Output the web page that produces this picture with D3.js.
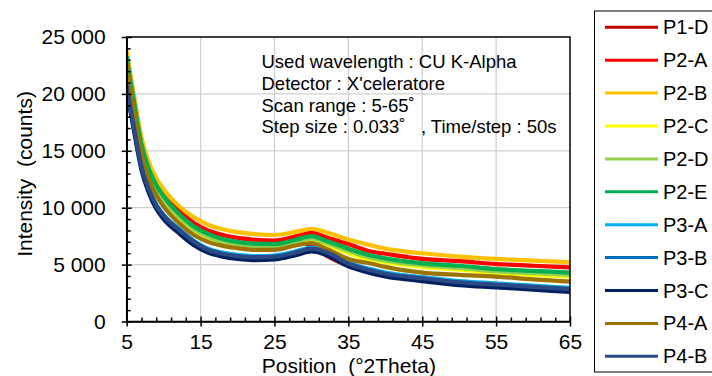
<!DOCTYPE html>
<html>
<head>
<meta charset="utf-8">
<script src="https://cdn.jsdelivr.net/npm/d3@7"></script>
<style>
  html, body { margin: 0; padding: 0; background: #fff; }
  svg { display: block; font-family: "Liberation Sans", Arial, sans-serif; }
  text { white-space: pre; }
</style>
</head>
<body>
<svg id="chart" width="712" height="376"></svg>
<script>
// ---- data (values in counts) ----
const positions = [5, 5.5, 6, 6.5, 7, 8, 9, 10, 12, 14, 16, 18, 20, 22, 25, 28, 30, 32, 35, 38, 40, 45, 50, 55, 60, 65];

const seriesNames = ["P1-D", "P2-A", "P2-B", "P2-C", "P2-D", "P2-E", "P3-A", "P3-B", "P3-C", "P4-A", "P4-B"];
const seriesColors = ["#C00000", "#FF0000", "#FFC000", "#FFFF00", "#92D050", "#00B050", "#00B0F0", "#0070C0", "#002060", "#9C7400", "#2B4A85"];

const p1d = [23000, 20900, 19000, 17000, 15300, 13100, 11700, 10700, 9250, 8150, 7450, 7000, 6800, 6650, 6600, 7000, 6700, 5800, 4900, 4350, 4050, 3650, 3350, 3150, 2950, 2750];
const p2a = [23600, 21500, 19600, 17600, 15900, 13700, 12300, 11300, 9800, 8700, 8000, 7600, 7350, 7200, 7100, 7500, 7800, 7400, 6800, 6150, 5950, 5500, 5300, 5050, 4900, 4750];
const p2b = [23800, 21700, 19800, 17900, 16200, 14000, 12600, 11600, 10200, 9200, 8500, 8100, 7850, 7700, 7600, 7900, 8150, 7850, 7200, 6700, 6400, 6000, 5700, 5500, 5350, 5200];
const p2c = [22900, 20800, 18900, 16900, 15200, 13000, 11600, 10600, 9100, 8000, 7300, 6850, 6650, 6500, 6500, 7000, 7200, 6750, 6000, 5400, 5200, 4800, 4550, 4250, 4100, 3950];
const p2d = [23000, 20900, 19000, 17000, 15300, 13100, 11700, 10700, 9250, 8150, 7450, 7000, 6800, 6650, 6600, 7050, 7300, 6900, 6200, 5600, 5350, 4950, 4700, 4400, 4250, 4100];
const p2e = [23300, 21200, 19300, 17300, 15600, 13400, 12000, 11000, 9500, 8400, 7700, 7250, 7000, 6850, 6800, 7200, 7500, 7100, 6400, 5800, 5550, 5100, 4900, 4600, 4450, 4300];
const p3a = [20900, 18900, 17100, 15300, 13700, 11700, 10300, 9400, 8200, 7150, 6400, 6050, 5850, 5750, 5800, 6200, 6500, 6200, 5200, 4600, 4300, 3900, 3550, 3350, 3150, 2950];
const p3b = [20750, 18750, 16950, 15150, 13550, 11550, 10150, 9250, 8050, 7000, 6250, 5900, 5700, 5600, 5650, 6050, 6350, 6050, 5050, 4450, 4150, 3750, 3400, 3200, 3000, 2800];
const p3c = [20500, 18500, 16700, 14900, 13300, 11300, 9900, 9000, 7800, 6750, 6050, 5700, 5500, 5400, 5450, 5850, 6150, 5850, 4850, 4250, 3950, 3550, 3200, 3000, 2800, 2600];
const p4a = [22600, 20400, 18500, 16400, 14700, 12500, 11100, 10100, 8700, 7650, 7000, 6650, 6450, 6300, 6300, 6700, 6900, 6400, 5500, 5100, 4800, 4300, 4100, 3950, 3700, 3500];
const p4b = [20800, 18800, 17000, 15200, 13600, 11600, 10200, 9300, 8100, 7050, 6300, 5950, 5750, 5650, 5700, 6100, 6400, 6100, 5100, 4500, 4200, 3800, 3450, 3250, 3050, 2850];

const seriesValues = [p1d, p2a, p2b, p2c, p2d, p2e, p3a, p3b, p3c, p4a, p4b];

const xMajorTicks = [5, 15, 25, 35, 45, 55, 65];
const xMinorTicks = [7, 9, 11, 13, 17, 19, 21, 23, 27, 29, 31, 33, 37, 39, 41, 43, 47, 49, 51, 53, 57, 59, 61, 63];
const yMajorTicks = [0, 5000, 10000, 15000, 20000, 25000];
const yMinorTicks = [1000, 2000, 3000, 4000, 6000, 7000, 8000, 9000, 11000, 12000, 13000, 14000, 16000, 17000, 18000, 19000, 21000, 22000, 23000, 24000];

const annotationLines = [
  "Used wavelength : CU K-Alpha",
  "Detector : X'celeratore",
  "Scan range : 5-65\u02DA",
  "Step size : 0.033\u02DA\u00A0\u00A0\u00A0, Time/step : 50s"
];
const xTitle = "Position\u00A0\u00A0(\u00B02Theta)";
const yTitle = "Intensity\u00A0\u00A0(counts)";

// ---- layout ----
const L = 126.7, R = 570, T = 37, B = 321.5;
const svg = d3.select("#chart");
const x = d3.scaleLinear().domain([5, 65]).range([L, R]);
const y = d3.scaleLinear().domain([0, 25000]).range([B, T]);
const fmt = d => d3.format(",")(d).replace(/,/g, " ");

// gridlines
svg.append("g").selectAll("line").data(xMajorTicks.slice(1, -1)).join("line")
  .attr("x1", d => x(d)).attr("x2", d => x(d)).attr("y1", T).attr("y2", B)
  .attr("stroke", "#D0D0D0").attr("stroke-width", 1.3);
svg.append("g").selectAll("line").data(yMajorTicks.slice(1, -1)).join("line")
  .attr("x1", L).attr("x2", R).attr("y1", d => y(d)).attr("y2", d => y(d))
  .attr("stroke", "#D0D0D0").attr("stroke-width", 1.3);

// annotation text
const ann = svg.append("g").attr("font-size", 18.5).attr("fill", "#000");
annotationLines.forEach((t, i) => {
  ann.append("text").attr("x", 261.5).attr("y", 68.3 + i * 21.7).text(t);
});

// series
svg.append("clipPath").attr("id", "clip").append("rect")
  .attr("x", L).attr("y", T - 5).attr("width", R - L).attr("height", B - T + 5);
const line = d3.line().curve(d3.curveMonotoneX);
const gLines = svg.append("g").attr("clip-path", "url(#clip)");
seriesValues.forEach((vals, i) => {
  gLines.append("path")
    .attr("d", line(positions.map((p, j) => [x(p), y(vals[j])])))
    .attr("fill", "none")
    .attr("stroke", seriesColors[i])
    .attr("stroke-width", 4.2)
    .attr("stroke-linejoin", "round");
});

// plot border
svg.append("rect").attr("x", L).attr("y", T).attr("width", R - L).attr("height", B - T)
  .attr("fill", "none").attr("stroke", "#000").attr("stroke-width", 1.5);

// x axis
const gx = svg.append("g").attr("transform", `translate(0,${B})`)
  .call(d3.axisBottom(x).tickValues(xMajorTicks).tickFormat(d3.format("d")).tickSize(5).tickSizeOuter(0).tickPadding(8));
gx.select(".domain").attr("stroke", "#000").attr("stroke-width", 1.5);
gx.selectAll(".tick line").attr("y1", -5).attr("y2", 5).attr("stroke-width", 1.5);
gx.selectAll(".tick text").attr("font-size", 21).attr("font-family", "Liberation Sans, Arial, sans-serif").attr("fill", "#000");
const gxm = svg.append("g").attr("transform", `translate(0,${B})`)
  .call(d3.axisBottom(x).tickValues(xMinorTicks).tickSize(-4).tickSizeOuter(0).tickFormat(""));
gxm.select(".domain").remove();
gxm.selectAll(".tick line").attr("stroke-width", 1.5);

// y axis
const gy = svg.append("g").attr("transform", `translate(${L},0)`)
  .call(d3.axisLeft(y).tickValues(yMajorTicks).tickFormat(fmt).tickSize(5).tickSizeOuter(0).tickPadding(16));
gy.select(".domain").attr("stroke", "#000").attr("stroke-width", 1.5);
gy.selectAll(".tick line").attr("x1", 5).attr("x2", -5).attr("stroke-width", 1.5);
gy.selectAll(".tick text").attr("font-size", 21).attr("font-family", "Liberation Sans, Arial, sans-serif").attr("fill", "#000");
const gym = svg.append("g").attr("transform", `translate(${L},0)`)
  .call(d3.axisLeft(y).tickValues(yMinorTicks).tickSize(-4).tickSizeOuter(0).tickFormat(""));
gym.select(".domain").remove();
gym.selectAll(".tick line").attr("stroke-width", 1.5);

// axis titles
svg.append("text").attr("x", (L + R) / 2 + 0.5).attr("y", 373).attr("text-anchor", "middle")
  .attr("font-size", 21).text(xTitle);
svg.append("text").attr("transform", `translate(32,174) rotate(-90)`).attr("text-anchor", "middle")
  .attr("font-size", 21).text(yTitle);

// legend
const lg = svg.append("g");
lg.append("rect").attr("x", 594.5).attr("y", 11).attr("width", 130).attr("height", 361)
  .attr("fill", "#fff").attr("stroke", "#000").attr("stroke-width", 1);
seriesNames.forEach((n, i) => {
  const yy = 27.3 + i * 32.9;
  lg.append("line").attr("x1", 605).attr("x2", 658).attr("y1", yy).attr("y2", yy)
    .attr("stroke", seriesColors[i]).attr("stroke-width", 3);
  lg.append("text").attr("x", 663).attr("y", yy + 7).attr("font-size", 20).text(n);
});
</script>
</body>
</html>
